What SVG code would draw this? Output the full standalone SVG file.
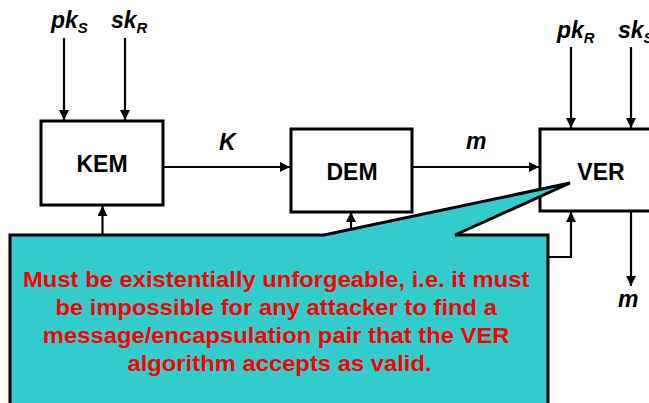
<svg xmlns="http://www.w3.org/2000/svg" width="649" height="403" viewBox="0 0 649 403">
<style>
.box{fill:#fff;stroke:#000;stroke-width:3}
.lbl{font-family:"Liberation Sans",Arial,sans-serif;font-weight:bold;font-size:23px;fill:#000}
.it{font-style:italic}
.sub{font-size:15px}
.con{fill:none;stroke:#000;stroke-width:2.2}
.note{font-family:"Liberation Sans",Arial,sans-serif;font-weight:bold;font-size:22px;fill:#ff0000}
</style>
<defs>
<marker id="ah" viewBox="0 0 10 10" refX="10" refY="5" markerWidth="10" markerHeight="10" markerUnits="userSpaceOnUse" orient="auto">
<path d="M0,0 L10,5 L0,10 Z" fill="#000"/>
</marker>
</defs>
<g id="connectors">
<line class="con" x1="64" y1="38" x2="64" y2="120" marker-end="url(#ah)"/>
<line class="con" x1="125" y1="38" x2="125" y2="120" marker-end="url(#ah)"/>
<line class="con" x1="163" y1="167" x2="290" y2="167" marker-end="url(#ah)"/>
<line class="con" x1="412" y1="167" x2="539" y2="167" marker-end="url(#ah)"/>
<line class="con" x1="571" y1="47" x2="571" y2="128" marker-end="url(#ah)"/>
<line class="con" x1="631" y1="47" x2="631" y2="128" marker-end="url(#ah)"/>
<line class="con" x1="631" y1="212" x2="631" y2="286" marker-end="url(#ah)"/>
<line class="con" x1="102.5" y1="236" x2="102.5" y2="206" marker-end="url(#ah)"/>
<line class="con" x1="351" y1="230" x2="351" y2="212" marker-end="url(#ah)"/>
<polyline class="con" points="548,257 571,257 571,212" marker-end="url(#ah)"/>
</g>
<g id="labels">
<text class="lbl it" x="51" y="28">pk<tspan class="sub" dy="5">S</tspan></text>
<text class="lbl it" x="111" y="28">sk<tspan class="sub" dy="5">R</tspan></text>
<text class="lbl it" x="219" y="150">K</text>
<text class="lbl it" x="466" y="149">m</text>
<text class="lbl it" x="557" y="38">pk<tspan class="sub" dy="5">R</tspan></text>
<text class="lbl it" x="618" y="38">sk<tspan class="sub" dy="5">S</tspan></text>
<text class="lbl it" x="618" y="307">m</text>
</g>
<g id="KEM">
<rect class="box" x="41" y="121" width="122" height="84"/>
<text class="lbl" x="102" y="172" text-anchor="middle">KEM</text>
</g>
<g id="DEM">
<rect class="box" x="291" y="129" width="121" height="83"/>
<text class="lbl" x="352" y="180" text-anchor="middle">DEM</text>
</g>
<g id="VER">
<rect class="box" x="540" y="129" width="120" height="82"/>
<text class="lbl" x="601" y="180" text-anchor="middle">VER</text>
</g>
<g id="callout">
<path d="M10,235 L324,235 L570,183 L455,235 L548,235 L548,410 L10,410 Z" fill="#33cccc" stroke="#000" stroke-width="3" stroke-linejoin="miter"/>
<text class="note" text-anchor="middle" transform="translate(279.5,0) scale(1.082,1)">
<tspan x="0" y="287">Must be existentially unforgeable, i.e. it must</tspan>
<tspan x="0" y="315">be impossible for any attacker to find a</tspan>
<tspan x="0" y="343">message/encapsulation pair that the VER</tspan>
<tspan x="0" y="371">algorithm accepts as valid.</tspan>
</text>
</g>
</svg>
